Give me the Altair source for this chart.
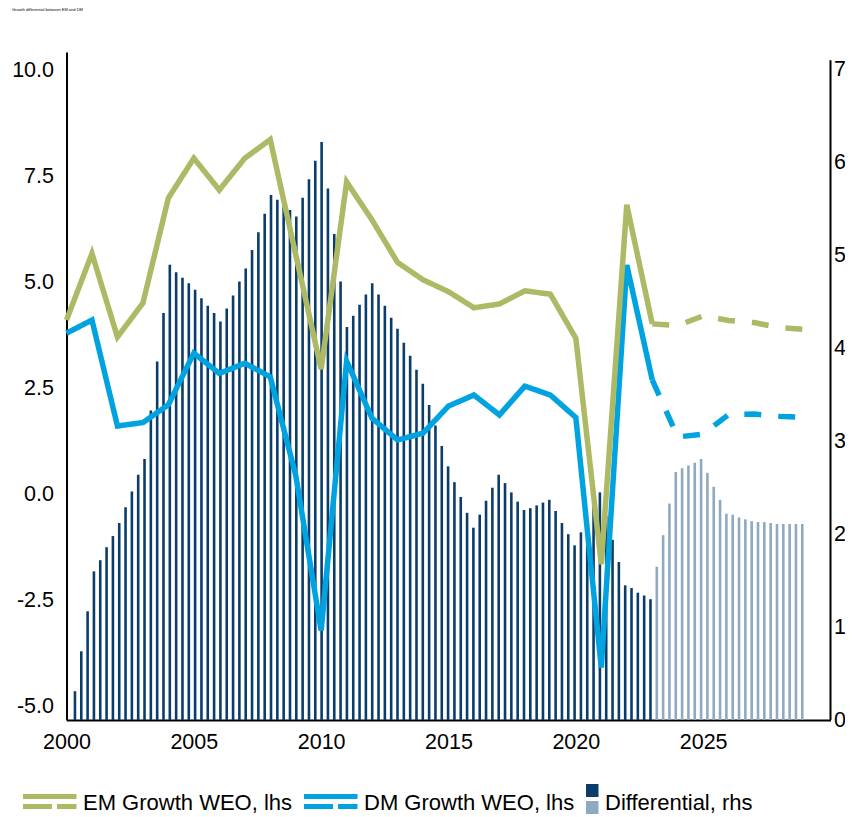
import altair as alt
import pandas as pd

# ---------------- data ----------------
line_years = list(range(2000, 2030))
em_growth = [4.11, 5.68, 3.71, 4.51, 6.99, 7.93, 7.18, 7.93, 8.37, 5.66,
             2.95, 7.37, 6.47, 5.47, 5.06, 4.78, 4.40, 4.49, 4.80, 4.72,
             3.68, -1.65, 6.83, 4.02, 3.98, 4.21, 4.10, 4.05, 3.93, 3.89]
dm_growth = [3.80, 4.11, 1.61, 1.69, 2.11, 3.33, 2.85, 3.09, 2.77, 0.45,
             -3.22, 3.14, 1.79, 1.28, 1.44, 2.08, 2.34, 1.87, 2.55, 2.34,
             1.81, -4.09, 5.41, 2.70, 1.35, 1.42, 1.88, 1.89, 1.84, 1.81]
forecast_from = 2023

# quarterly differential (rhs), starting 2000 Q1
diff_values = [0.31, 0.74, 1.17, 1.60, 1.72, 1.86, 1.98, 2.12, 2.29, 2.46,
               2.64, 2.81, 3.33, 3.86, 4.38, 4.90, 4.82, 4.76, 4.70, 4.63,
               4.54, 4.46, 4.38, 4.29, 4.43, 4.57, 4.72, 4.86, 5.06, 5.25,
               5.45, 5.65, 5.60, 5.53, 5.49, 5.42, 5.62, 5.82, 6.02, 6.22,
               5.72, 5.23, 4.72, 4.23, 4.35, 4.47, 4.58, 4.70, 4.58, 4.46,
               4.33, 4.21, 4.06, 3.92, 3.77, 3.62, 3.39, 3.17, 2.95, 2.73,
               2.56, 2.40, 2.23, 2.07, 2.21, 2.36, 2.50, 2.64, 2.55, 2.45,
               2.35, 2.26, 2.28, 2.31, 2.34, 2.37, 2.25, 2.12, 2.00, 1.88,
               2.02, 2.16, 2.30, 2.45, 2.20, 1.94, 1.70, 1.45, 1.42, 1.37,
               1.34, 1.30,
               1.65, 1.99, 2.33, 2.67, 2.71, 2.74, 2.77, 2.81, 2.66, 2.51,
               2.37, 2.22, 2.21, 2.18, 2.16, 2.14, 2.13, 2.13, 2.12, 2.11,
               2.11, 2.11, 2.11, 2.11]
n_actual_quarters = 92
first_quarter_year = 2000.0

x_ticks = [2000, 2005, 2010, 2015, 2020, 2025]
left_ticks = [-5, -2.5, 0, 2.5, 5, 7.5, 10]
right_ticks = [0, 1, 2, 3, 4, 5, 6, 7]
right_axis_top = 7.1
legend_labels = ["EM Growth WEO, lhs", "DM Growth WEO, lhs", "Differential, rhs"]
title_text = "Growth differential between EM and DM"

# ---------------- styling ----------------
FONT = "Liberation Sans, Arial, sans-serif"
AXIS_FS = 21.5
LEG_FS = 22
EM_COL = "#ADB964"
DM_COL = "#00A3E0"
BAR_DARK = "#0B3D6B"
BAR_LIGHT = "#8FA9C0"

# ---------------- tables ----------------
rows = []
for name, vals in (("EM", em_growth), ("DM", dm_growth)):
    for yr, v in zip(line_years, vals):
        if yr <= forecast_from:
            rows.append({"series": name, "seg": "actual", "year": yr, "val": v})
        if yr >= forecast_from:
            rows.append({"series": name, "seg": "forecast", "year": yr, "val": v})
lines_df = pd.DataFrame(rows)

bars_df = pd.DataFrame({
    "xq": [first_quarter_year + 0.25 * i for i in range(len(diff_values))],
    "diff": diff_values,
    "phase": ["actual" if i < n_actual_quarters else "forecast" for i in range(len(diff_values))],
})

axis_common = dict(labelFont=FONT, labelFontSize=AXIS_FS, labelColor="black",
                   domainColor="black", domainWidth=2, ticks=False, tickSize=0,
                   grid=False, title=None)

bars = alt.Chart(bars_df).mark_bar(width=2.6).encode(
    x=alt.X("xq:Q", scale=alt.Scale(domain=[1999.8635, 2029.668], nice=False, zero=False), axis=None),
    y=alt.Y("diff:Q", scale=alt.Scale(domain=[0, 7.19], nice=False, zero=False),
            axis=alt.Axis(orient="right", values=right_ticks, format="d", labelPadding=3,
                          domain=False, **axis_common)),
    color=alt.Color("phase:N", scale=alt.Scale(domain=["actual", "forecast"], range=[BAR_DARK, BAR_LIGHT]), legend=None),
)

one = pd.DataFrame({"k": [0]})
right_axis_line = alt.Chart(one).mark_rule(color="black", strokeWidth=2).encode(
    x=alt.value(764), y=alt.datum(0), y2=alt.datum(right_axis_top))

bars_layer = alt.layer(bars, right_axis_line)

x_enc = alt.X("year:Q", scale=alt.Scale(domain=[2000, 2030], nice=False, zero=False),
              axis=alt.Axis(values=x_ticks, format="d", labelPadding=11, labelFlush=False, **axis_common))
y_enc = alt.Y("val:Q", scale=alt.Scale(domain=[-5.33, 10.437], nice=False, zero=False),
              axis=alt.Axis(orient="left", values=left_ticks, labelPadding=13,
                            labelExpr="replace(format(datum.value, '.1f'), '\u2212', '-')", **axis_common))
dash_enc = alt.StrokeDash("seg:N", scale=alt.Scale(domain=["actual", "forecast"], range=[[1, 0], [17, 17]]), legend=None)


def series_line(name, col):
    return alt.Chart(lines_df).transform_filter(alt.datum.series == name).mark_line(
        color=col, strokeWidth=5.5, strokeJoin="miter"
    ).encode(x=x_enc, y=y_enc, strokeDash=dash_enc)


lines = alt.layer(series_line("DM", DM_COL), series_line("EM", EM_COL))


# ---------------- legend (decoration) ----------------
def rect(x0, x1, y0, y1, col):
    return alt.Chart(one).mark_rect(color=col).encode(
        x=alt.value(x0), x2=alt.value(x1), y=alt.value(y0), y2=alt.value(y1))


def label(x0, y0, txt, size=LEG_FS):
    return alt.Chart(one).mark_text(align="left", baseline="middle", font=FONT, fontSize=size,
                                    color="black").encode(x=alt.value(x0), y=alt.value(y0), text=alt.value(txt))


legend_parts = []
for x0, col, txt in ((-43.5, EM_COL, legend_labels[0]), (237.5, DM_COL, legend_labels[1])):
    legend_parts += [
        rect(x0, x0 + 53.5, 742, 747, col),
        rect(x0, x0 + 29, 752, 757, col),
        rect(x0 + 34, x0 + 53.5, 752, 757, col),
        label(x0 + 60, 751, txt),
    ]
legend_parts += [
    rect(519.5, 532, 732, 745, BAR_DARK),
    rect(519.5, 532, 749, 762, BAR_LIGHT),
    label(538.5, 751, legend_labels[2]),
    label(-54.5, -42, title_text, size=4),
]

chart = alt.layer(bars_layer, lines, *legend_parts).resolve_scale(
    x="independent", y="independent"
).properties(
    width=764, height=668,
    autosize=alt.AutoSizeParams(type="none"),
    padding={"left": 58.5, "top": 44, "right": 14, "bottom": 98},
).configure_view(stroke=None)

chart.save("out.html", embed_options={"renderer": "svg", "actions": False})
